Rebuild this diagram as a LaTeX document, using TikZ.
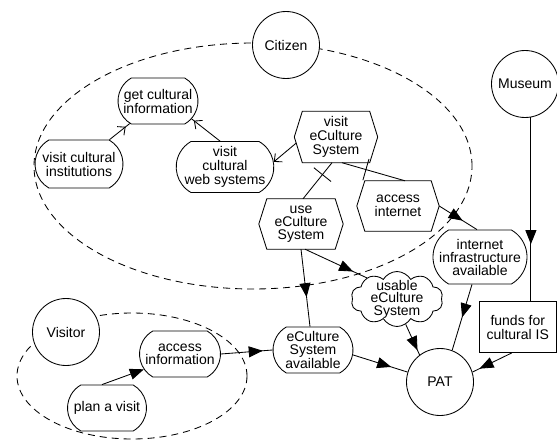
\documentclass[tikz,border=0pt]{standalone}
\usepackage{fontspec}
\setmainfont{Liberation Sans}
\usetikzlibrary{shapes.misc,shapes.symbols,arrows.meta,decorations.markings}
\pgfdeclarelayer{boundary}
\pgfdeclarelayer{outline}
\pgfsetlayers{boundary,outline,main}

\tikzset{
  every node/.style={font=\fontsize{14}{14}\selectfont, align=center},
  tight/.style={font=\fontsize{14}{13}\selectfont},
  lw/.style={line width=0.85pt},
  actor/.style={lw, circle, draw, fill=white, minimum size=67pt, inner sep=0pt},
  goal/.style={lw, rounded rectangle, rounded rectangle arc length=120, draw, fill=white, inner sep=0pt},
  task/.style={rectangle, inner sep=0pt},
  resource/.style={lw, rectangle, draw, fill=white, inner sep=0pt},
  softgoal/.style={lw, cloud, cloud puffs=10, cloud puff arc=120, aspect=1.7, draw, fill=white, inner sep=-5pt},
  boundaryline/.style={lw, dash pattern=on 7pt off 5pt},
  link/.style={lw},
  dep/.style={link, postaction={decorate}, decoration={markings,
      mark=at position #1 with {\arrow{Triangle[length=14pt,width=11pt]}}}},
  meansend/.style={link, postaction={decorate}, decoration={markings,
      mark=at position #1 with {\arrow{Straight Barb[length=6pt,width=11pt,line width=0.85pt]}}}},
  decomp/.style={link, postaction={decorate}, decoration={markings,
      mark=at position #1 with {\draw[lw] (0pt,-11pt) -- (0pt,11pt);}}}
}

\begin{document}
\begin{tikzpicture}[x=1pt,y=-1pt]
\useasboundingbox (0,0) rectangle (557,444);

% actor boundaries
\begin{pgfonlayer}{boundary}
  \draw[boundaryline] (253,166) ellipse [x radius=219pt, y radius=123pt];
  \draw[boundaryline] (132,376) ellipse [x radius=115pt, y radius=63pt];
\end{pgfonlayer}

% actors
\node[actor] (citizen) at (286,45) {Citizen};
\node[actor] (museum) at (525,84) {Museum};
\node[actor] (visitor) at (66,332) {Visitor};
\node[actor] (pat) at (440,382) {PAT};

% goals
\node[goal, minimum width=80pt, minimum height=46pt] (gci) at (158,101) {get cultural\\information};
\node[goal, minimum width=88pt, minimum height=48pt] (vci) at (79,164) {visit cultural\\institutions};
\node[goal, minimum width=89pt, minimum height=51pt] (vcws) at (225,167) {visit\\cultural\\web systems};
\node[goal, tight, minimum width=94pt, minimum height=54pt] (iia) at (480,257) {internet\\infrastructure\\available};
\node[goal, tight, minimum width=80pt, minimum height=46pt] (esa) at (313,350) {eCulture\\System\\available};
\node[goal, tight, minimum width=81pt, minimum height=46pt] (ai) at (180,354) {access\\information};
\node[goal, minimum width=79pt, minimum height=46pt] (pav) at (107,408) {plan a visit};

% tasks
\node[task, minimum width=83pt, minimum height=51pt] (ves) at (336,137) {visit\\eCulture\\System};
\node[task, minimum width=82pt, minimum height=50pt] (acc) at (398,206) {access\\internet};
\node[task, tight, minimum width=84pt, minimum height=50pt] (ues) at (301,224) {use\\eCulture\\System};
\begin{pgfonlayer}{outline}
  \foreach \t in {ves,acc,ues}
    \draw[lw, fill=white] ([xshift=8pt]\t.north west) -- ([xshift=-8pt]\t.north east)
      -- (\t.east) -- ([xshift=-8pt]\t.south east) -- ([xshift=8pt]\t.south west)
      -- (\t.west) -- cycle;
\end{pgfonlayer}

% softgoal
\node[softgoal, font=\fontsize{14}{12.6}\selectfont, minimum width=92pt, minimum height=55pt] (usable) at (397,299) {usable\\eCulture\\System};

% resource
\node[resource, minimum width=77.5pt, minimum height=51pt] (funds) at (517.75,327) {funds for\\cultural IS};

% means-end links
\draw[meansend=0.8] (vci) -- (gci);
\draw[meansend=0.92] ([xshift=-5pt]vcws.north) -- (gci.-28);
\draw[link, -{Straight Barb[length=6pt,width=11pt,line width=0.85pt]}] ([xshift=2pt,yshift=-6pt]ves.west) -- (vcws.6);

% task decompositions
\draw[decomp=0.33] ([xshift=-4pt]ves.south) -- ([xshift=2pt]ues.north);
\draw[decomp=0.38] ([xshift=6pt]ves.south) -- ([xshift=7pt]acc.north);

% dependencies
\draw[dep=0.62] (acc.east) -- ([xshift=-3pt]iia.north);
\draw[dep=0.62] (ues.south) -- ([xshift=-3pt]esa.north);
\draw[dep=0.78] ([xshift=4pt]ues.south) -- (usable.145);
\draw[dep=0.85] (usable.-71) -- (pat.127);
\draw[dep=0.5] ([xshift=-8pt]iia.south) -- (pat.69);
\draw[dep=0.69] (museum.-80) -- (museum.-80 |- funds.north);
\draw[dep=0.82] ([xshift=-6pt]funds.south) -- (pat.17);
\draw[dep=0.7] (esa.-7) -- (pat.163);
\draw[dep=0.81] (ai.east) -- (esa.west);
\draw[link, -{Triangle[length=14pt,width=11pt]}] ([xshift=-5pt]pav.north) -- (ai.203);
\end{tikzpicture}
\end{document}
